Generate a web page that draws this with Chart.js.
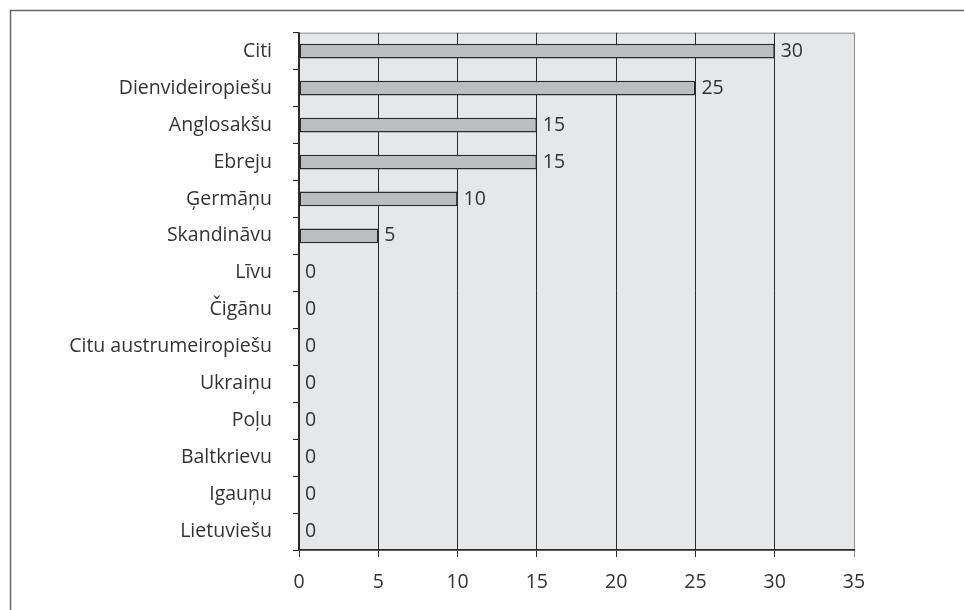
<!DOCTYPE html>
<html>
<head>
<meta charset="utf-8">
<script src="https://cdn.jsdelivr.net/npm/chart.js@4/dist/chart.umd.min.js"></script>
<style>
  html, body { margin: 0; padding: 0; background: #ffffff; }
  #wrap { width: 964px; height: 610px; position: relative; }
</style>
</head>
<body>
<div id="wrap"><canvas id="c" width="964" height="610"></canvas></div>
<script>
// Nationality groups and counts
const categories = [
  'Citi', 'Dienvideiropiešu', 'Anglosakšu', 'Ebreju', 'Ģermāņu', 'Skandināvu',
  'Līvu', 'Čigānu', 'Citu austrumeiropiešu', 'Ukraiņu', 'Poļu', 'Baltkrievu',
  'Igauņu', 'Lietuviešu'
];
const counts = [30, 25, 15, 15, 10, 5, 0, 0, 0, 0, 0, 0, 0, 0];
const xTicks = [0, 5, 10, 15, 20, 25, 30, 35];

const FONT = '"Open Sans", "DejaVu Sans", sans-serif';
const FONT_SIZE = 19.5;
const TEXT = '#333333';

// Outer frame line and plot background
const framePlugin = {
  id: 'frame',
  beforeDraw(chart) {
    const ctx = chart.ctx;
    const a = chart.chartArea;
    ctx.save();
    ctx.strokeStyle = '#666666';
    ctx.lineWidth = 1.5;
    ctx.beginPath();
    ctx.moveTo(10.5, 610);
    ctx.lineTo(10.5, 10.5);
    ctx.lineTo(964, 10.5);
    ctx.stroke();
    ctx.fillStyle = '#e6e7e8';
    ctx.fillRect(a.left, a.top, a.right - a.left, a.bottom - a.top);
    ctx.strokeStyle = '#8c8c8c';
    ctx.lineWidth = 1;
    ctx.strokeRect(a.left + 0.5, a.top + 0.5, a.right - a.left, a.bottom - a.top);
    ctx.restore();
  }
};

// Value labels to the right of each bar
const valueLabels = {
  id: 'valueLabels',
  afterDatasetsDraw(chart) {
    const ctx = chart.ctx;
    const xs = chart.scales.x, ys = chart.scales.y;
    ctx.save();
    ctx.font = FONT_SIZE + 'px ' + FONT;
    ctx.fillStyle = TEXT;
    ctx.textAlign = 'left';
    ctx.textBaseline = 'middle';
    counts.forEach((v, i) => {
      const x = xs.getPixelForValue(v) + 6;
      const y = ys.getPixelForValue(i);
      ctx.fillText(String(v), x, y);
    });
    ctx.restore();
  }
};

new Chart(document.getElementById('c'), {
  type: 'bar',
  data: {
    labels: categories,
    datasets: [{
      data: counts,
      backgroundColor: '#bcbdc0',
      borderColor: '#2b2b2b',
      // zero-length bars get no outline
      borderWidth: ctx => (ctx.raw ? 1.5 : 0),
      borderSkipped: false,
      barPercentage: 0.4,
      categoryPercentage: 1.0
    }]
  },
  options: {
    indexAxis: 'y',
    responsive: false,
    animation: false,
    devicePixelRatio: 1,
    layout: { padding: { top: 31, right: 110, left: 0, bottom: 0 } },
    plugins: { legend: { display: false }, tooltip: { enabled: false } },
    scales: {
      x: {
        min: 0, max: 35,
        afterBuildTicks(scale) { scale.ticks = xTicks.map(v => ({ value: v })); },
        afterFit(scale) { scale.height = 60; },
        border: { display: true, color: '#2b2b2b', width: 1.5 },
        grid: {
          drawOnChartArea: true,
          drawTicks: true,
          tickLength: 7,
          color: ctx => (ctx.tick && ctx.tick.value === 35) ? '#8c8c8c' : '#2b2b2b',
          lineWidth: 1
        },
        ticks: {
          font: { family: FONT, size: FONT_SIZE },
          color: TEXT,
          padding: 14,
          maxRotation: 0
        }
      },
      y: {
        afterFit(scale) { scale.width = 299; },
        border: { display: true, color: '#2b2b2b', width: 1.5 },
        grid: {
          offset: true,
          drawOnChartArea: false,
          drawTicks: true,
          tickLength: 6,
          color: '#2b2b2b',
          lineWidth: 1
        },
        ticks: {
          font: { family: FONT, size: FONT_SIZE },
          color: TEXT,
          padding: 21,
          autoSkip: false
        }
      }
    }
  },
  plugins: [framePlugin, valueLabels]
});
</script>
</body>
</html>
